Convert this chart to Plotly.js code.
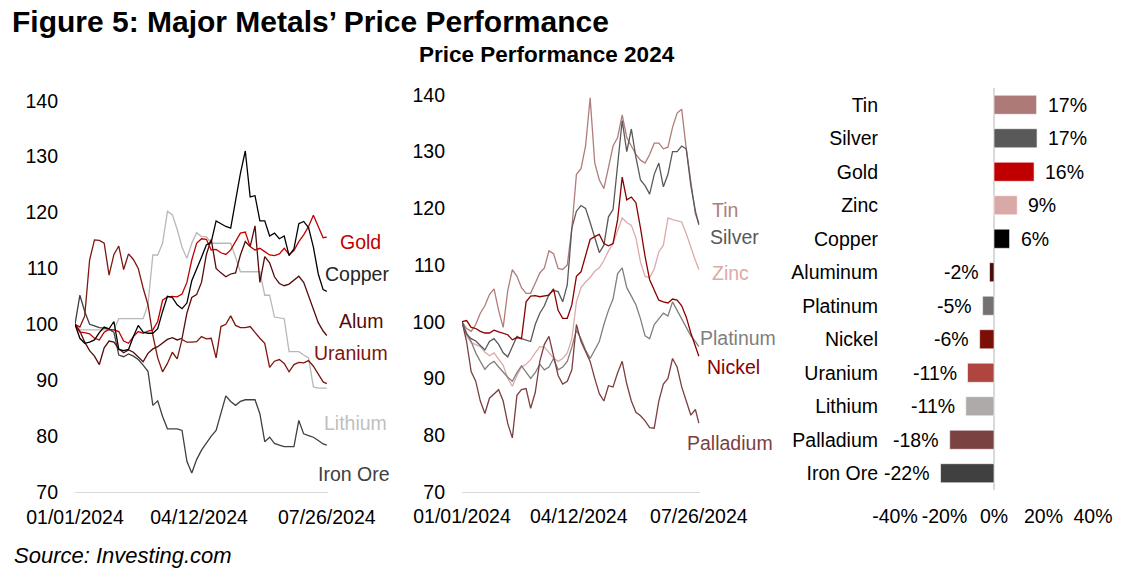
<!DOCTYPE html>
<html>
<head>
<meta charset="utf-8">
<script src="https://cdn.plot.ly/plotly-3.0.1.min.js"></script>
<style>
html,body{margin:0;padding:0;background:#fff;}
#chart{width:1136px;height:579px;}
</style>
</head>
<body>
<div id="chart"></div>
<script>
// ---------- data ----------
const dates = ['2024-01-01','2024-01-05','2024-01-09','2024-01-13','2024-01-17','2024-01-21','2024-01-25','2024-01-29',
'2024-02-02','2024-02-06','2024-02-10','2024-02-14','2024-02-18','2024-02-22','2024-02-26',
'2024-03-01','2024-03-05','2024-03-09','2024-03-13','2024-03-17','2024-03-21','2024-03-25','2024-03-29',
'2024-04-02','2024-04-06','2024-04-10','2024-04-14','2024-04-18','2024-04-22','2024-04-26','2024-04-30',
'2024-05-04','2024-05-08','2024-05-12','2024-05-16','2024-05-20','2024-05-24','2024-05-28',
'2024-06-01','2024-06-05','2024-06-09','2024-06-13','2024-06-17','2024-06-21','2024-06-25','2024-06-29',
'2024-07-03','2024-07-07','2024-07-11','2024-07-15','2024-07-19','2024-07-23','2024-07-26'];

// left panel
const gold = [100,98.6,98.5,98.3,97.5,97.2,98.6,99.1,99.0,98.7,97.0,96.6,97.8,98.7,98.4,98.8,99.0,100.5,104.3,104.9,105.0,104.9,105.4,107.5,111.5,114.5,115.3,115.2,113.3,113.4,112.8,112.5,113.3,114.8,116.3,116.5,113.9,113.3,113.6,113.0,112.4,112.3,112.6,113.6,112.5,113.2,114.8,116.0,117.5,119.5,117.5,115.5,115.6];
const copper = [100,97.5,96.6,96.8,97.2,98.5,99.5,99.2,100.5,95.5,95.3,95.5,97.8,99.8,98.6,98.4,98.4,99.2,102.3,105.0,104.8,103.5,102.8,103.8,107.8,109.8,112.0,114.2,114.7,118.5,118.0,117.5,117.2,122.5,127.0,131.0,122.8,123.0,118.5,118.5,115.8,116.3,115.3,115.8,112.3,113.5,118.0,118.4,117.3,113.8,109.0,106.2,105.9];
const alum = [100,98.8,96.8,95.3,94.3,92.8,95.8,97.0,96.8,95.6,94.9,95.4,95.0,94.2,93.3,94.8,95.6,96.0,96.6,97.3,97.6,97.2,97.5,102.0,104.8,105.3,107.5,112.5,115.2,110.0,109.2,108.5,109.0,109.2,112.4,114.8,113.9,117.6,107.5,112.1,111.0,108.5,107.3,106.9,107.2,107.9,108.6,107.5,105.0,102.5,100.3,98.8,98.0];
const uranium = [100,99.5,101.5,111.5,115.1,115.0,114.5,108.8,112.5,114.0,109.8,112.6,111.6,110.0,106.5,103.5,98.0,94.0,91.5,93.0,95.0,93.8,97.3,96.8,96.8,96.9,97.8,97.4,97.5,94.0,99.6,100.0,101.5,99.8,99.4,99.4,99.6,98.5,97.5,96.6,92.3,93.4,93.7,93.0,91.5,92.8,93.2,93.1,93.5,92.5,91.0,89.7,89.4];
const lithium = [100,99,99,99,99,99,99,99,99,101,101,101,101,101,101,103.5,112.4,112.4,114.5,120.2,119.6,117.0,113.8,111.8,114.5,116.4,115.7,115.7,114.5,114.5,114.5,114.5,114.5,112.0,109.4,109.4,109.4,109.4,109.4,105.2,105.2,101.3,101.2,101.0,95.1,95.1,95.1,94.5,94.0,88.8,88.6,88.6,88.6];
const ironOre = [100,105.2,102.3,100.0,99.7,99.4,99.3,99.1,98.6,94.5,94.2,94.7,94.3,93.7,92.7,91.6,85.5,86.3,83.5,81.3,81.3,81.3,81.0,75.5,73.4,75.8,77.5,78.8,80.0,81.0,84.0,87.2,86.2,85.5,86.2,86.5,86.5,86.5,84.0,79.0,79.8,78.7,78.4,78.1,78.1,78.1,82.8,80.4,80.1,79.8,79.2,78.6,78.4];

// middle panel
const tin = [100,98.8,98.3,99.5,101.5,102.8,104.8,105.8,102.0,99.0,105.5,109.2,108.0,106.0,105.0,105.0,106.8,108.6,109.5,112.5,112.0,109.4,109.2,110.0,116.5,126.0,127.0,131.0,139.5,128.0,125.0,123.5,127.2,131.0,132.5,136.5,132.5,131.0,129.5,128.5,128.0,129.5,131.5,131.5,130.5,130.8,134.3,136.8,137.5,130.5,124.5,119.0,117.4];
const silver = [100,97.8,97.0,96.6,95.8,95.0,96.5,97.0,96.0,94.5,93.8,95.5,97.4,97.0,96.8,96.5,99.5,101.5,102.8,104.8,105.5,105.3,103.5,106.5,116.5,119.5,120.5,120.0,117.5,114.8,112.2,113.5,118.5,119.8,128.0,135.5,130.0,134.0,129.0,125.0,124.0,122.5,126.0,128.0,123.8,126.0,130.0,130.0,131.0,130.5,124.0,119.5,117.1];
const zinc = [100,97.5,96.3,95.9,95.6,94.6,94.0,94.5,93.5,92.3,90.0,88.6,90.5,92.0,92.5,93.3,94.5,95.6,95.5,94.5,93.6,93.0,93.5,94.5,97.0,103.5,106.0,107.0,107.8,108.9,109.5,110.8,112.5,113.8,116.0,118.3,117.5,117.0,114.8,110.5,108.0,107.8,109.3,112.3,113.5,118.3,118.0,117.8,117.6,115.5,113.0,110.8,109.2];
const platinum = [100,98.0,96.5,94.5,93.0,91.6,92.5,93.0,92.0,91.0,90.2,89.5,91.0,92.2,91.0,90.0,91.0,92.5,91.5,92.0,93.5,91.5,92.0,93.0,95.5,98.5,97.0,95.0,93.5,95.0,96.5,99.5,102.0,104.0,108.5,109.5,106.0,104.5,103.0,100.5,97.5,97.0,99.5,100.5,101.5,101.0,103.5,102.0,100.5,99.0,97.5,96.5,95.6];
const nickel = [100,100.2,99.0,98.8,98.3,98.0,98.0,98.5,98.2,98.0,97.7,96.8,97.2,97.0,103.5,104.5,104.6,104.4,104.5,104.7,105.8,102.0,100.6,100.6,103.0,108.0,108.8,111.5,114.5,115.0,115.4,113.8,113.4,113.8,118.0,125.5,121.5,122.0,121.0,116.5,111.5,107.4,105.5,103.8,103.5,103.3,104.0,103.8,102.8,100.8,98.0,95.5,93.9];
const palladium = [100,96.5,91.2,89.5,86.0,83.8,86.5,87.2,88.0,86.0,82.0,79.5,87.0,88.0,88.2,84.7,87.5,93.0,96.0,97.4,94.0,90.5,89.0,89.5,91.5,99.5,96.5,94.8,93.0,90.0,87.3,86.0,88.7,88.5,91.0,93.0,89.0,86.0,84.0,83.4,82.5,81.3,81.2,86.0,89.0,90.0,93.5,92.0,88.5,86.0,83.5,84.5,82.1];

// right panel (bar chart, % change 2024)
const barNames = ['Tin','Silver','Gold','Zinc','Copper','Aluminum','Platinum','Nickel','Uranium','Lithium','Palladium','Iron Ore'];
const barValues = [17.2,17.4,16.2,9.4,6.3,-1.8,-4.6,-5.8,-10.7,-11.4,-17.9,-21.6];
const barColors = ['#ad7a77','#595959','#c00000','#d9a9a7','#000000','#4a0b0b','#767171','#7b0f07','#b0453f','#aeaaaa','#7b4242','#404040'];

const dateTicks = ['2024-01-01','2024-04-12','2024-07-26'];
const dateTickText = ['01/01/2024','04/12/2024','07/26/2024'];
const yTicks = [70,80,90,100,110,120,130,140];
const barTicks = [-40,-20,0,20,40];
const barTickText = ['-40%','-20%','0%','20%','40%'];

// ---------- layout helpers ----------
const W = 1136, H = 579;
const fx = p => p / W;
const fy = p => 1 - p / H;
const FONT = 'Liberation Sans, Arial, Helvetica, sans-serif';

function line(x, y, color, xa, ya) {
  return {x: x, y: y, type: 'scatter', mode: 'lines', xaxis: xa, yaxis: ya,
          line: {color: color, width: 1.3}, hoverinfo: 'skip'};
}

const traces = [
  line(dates, lithium, '#b8b8b8', 'x', 'y'),
  line(dates, ironOre, '#404040', 'x', 'y'),
  line(dates, uranium, '#7e1610', 'x', 'y'),
  line(dates, alum, '#550a0a', 'x', 'y'),
  line(dates, gold, '#c00000', 'x', 'y'),
  line(dates, copper, '#000000', 'x', 'y'),

  line(dates, zinc, '#dcaaa8', 'x2', 'y2'),
  line(dates, tin, '#b07d7a', 'x2', 'y2'),
  line(dates, platinum, '#7f7f7f', 'x2', 'y2'),
  line(dates, palladium, '#7b3f3f', 'x2', 'y2'),
  line(dates, silver, '#595959', 'x2', 'y2'),
  line(dates, nickel, '#8b0000', 'x2', 'y2'),

  {type: 'bar', orientation: 'h', x: barValues, y: barNames, xaxis: 'x3', yaxis: 'y3',
   marker: {color: barColors, line: {color: 'rgba(255,255,255,0.6)', width: 1}},
   width: 0.57, hoverinfo: 'skip'}
];

const dateAxis = (d0, d1) => ({
  domain: [fx(d0), fx(d1)], type: 'date', range: ['2024-01-01', '2024-07-27'],
  tickmode: 'array', tickvals: dateTicks, ticktext: dateTickText,
  showline: true, linecolor: '#d9d9d9', linewidth: 1.3, showgrid: false, zeroline: false,
  ticks: '', ticklabelstandoff: 7, tickfont: {size: 19.5, color: '#000'}, fixedrange: true
});
const valAxis = (top, bottom) => ({
  domain: [fy(bottom), fy(top)], range: [70, 140], tickmode: 'array', tickvals: yTicks,
  showline: false, showgrid: false, zeroline: false, ticks: '', ticklabelstandoff: 16,
  tickfont: {size: 19.5, color: '#000'}, fixedrange: true
});

const annotations = [];
function lbl(text, left, cy, color) {
  annotations.push({text: text, xref: 'paper', yref: 'paper', x: fx(left), y: fy(cy),
    xanchor: 'left', yanchor: 'middle', showarrow: false,
    font: {family: FONT, size: 19.5, color: color}});
}
// left panel end labels
lbl('Gold', 338, 242, '#c00000');
lbl('Copper', 323, 274, '#262626');
lbl('Alum', 337, 321, '#550a0a');
lbl('Uranium', 312, 353, '#7e1610');
lbl('Lithium', 322, 423, '#bfbfbf');
lbl('Iron Ore', 316, 474, '#404040');
// middle panel end labels
lbl('Tin', 710, 210, '#b07d7a');
lbl('Silver', 708, 237, '#595959');
lbl('Zinc', 710, 273, '#dcaaa8');
lbl('Platinum', 698, 338, '#7f7f7f');
lbl('Nickel', 705, 367, '#8b0000');
lbl('Palladium', 685, 443, '#7b3f3f');

// bar value labels
barValues.forEach((v, i) => {
  annotations.push({text: Math.round(v) + '%', x: v, y: barNames[i], xref: 'x3', yref: 'y3',
    xanchor: v >= 0 ? 'left' : 'right', xshift: v >= 0 ? 9 : -9, yanchor: 'middle',
    showarrow: false, font: {family: FONT, size: 19.5, color: '#000'}});
});

// titles
annotations.push({text: '<b>Figure 5: Major Metals’ Price Performance</b>', xref: 'paper', yref: 'paper',
  x: fx(10), y: fy(21), xanchor: 'left', yanchor: 'middle', showarrow: false,
  font: {family: FONT, size: 30, color: '#000'}});
annotations.push({text: '<b>Price Performance 2024</b>', xref: 'paper', yref: 'paper',
  x: fx(547), y: fy(55), xanchor: 'center', yanchor: 'middle', showarrow: false,
  font: {family: FONT, size: 22.5, color: '#000'}});
annotations.push({text: '<i>Source: Investing.com</i>', xref: 'paper', yref: 'paper',
  x: fx(12), y: fy(555), xanchor: 'left', yanchor: 'middle', showarrow: false,
  font: {family: FONT, size: 22, color: '#000'}});

const layout = {
  width: W, height: H, margin: {l: 0, r: 0, t: 0, b: 0},
  paper_bgcolor: '#ffffff', plot_bgcolor: 'rgba(0,0,0,0)', showlegend: false,
  font: {family: FONT, size: 19.5, color: '#000'},
  xaxis: dateAxis(75, 328),
  yaxis: valAxis(100.7, 492),
  xaxis2: dateAxis(462, 700),
  yaxis2: Object.assign(valAxis(95, 491.7), {anchor: 'x2'}),
  xaxis3: {domain: [fx(895), fx(1093)], range: [-40, 40], tickmode: 'array', tickvals: barTicks,
    ticktext: barTickText, showgrid: false, showline: false, zeroline: true, zerolinecolor: '#d9d9d9',
    zerolinewidth: 2, ticks: '', ticklabelstandoff: 12, anchor: 'y3',
    tickfont: {size: 19.5, color: '#000'}, fixedrange: true},
  yaxis3: {domain: [fy(490), fy(88)], type: 'category', autorange: 'reversed', anchor: 'x3',
    showgrid: false, showline: false, zeroline: false, ticks: '', ticklabelstandoff: 16,
    tickfont: {size: 19.5, color: '#000'}, fixedrange: true},
  annotations: annotations
};
layout.xaxis.anchor = 'y';
layout.yaxis.anchor = 'x';
layout.xaxis2.anchor = 'y2';

Plotly.newPlot('chart', traces, layout, {displayModeBar: false, staticPlot: true});
</script>
</body>
</html>
